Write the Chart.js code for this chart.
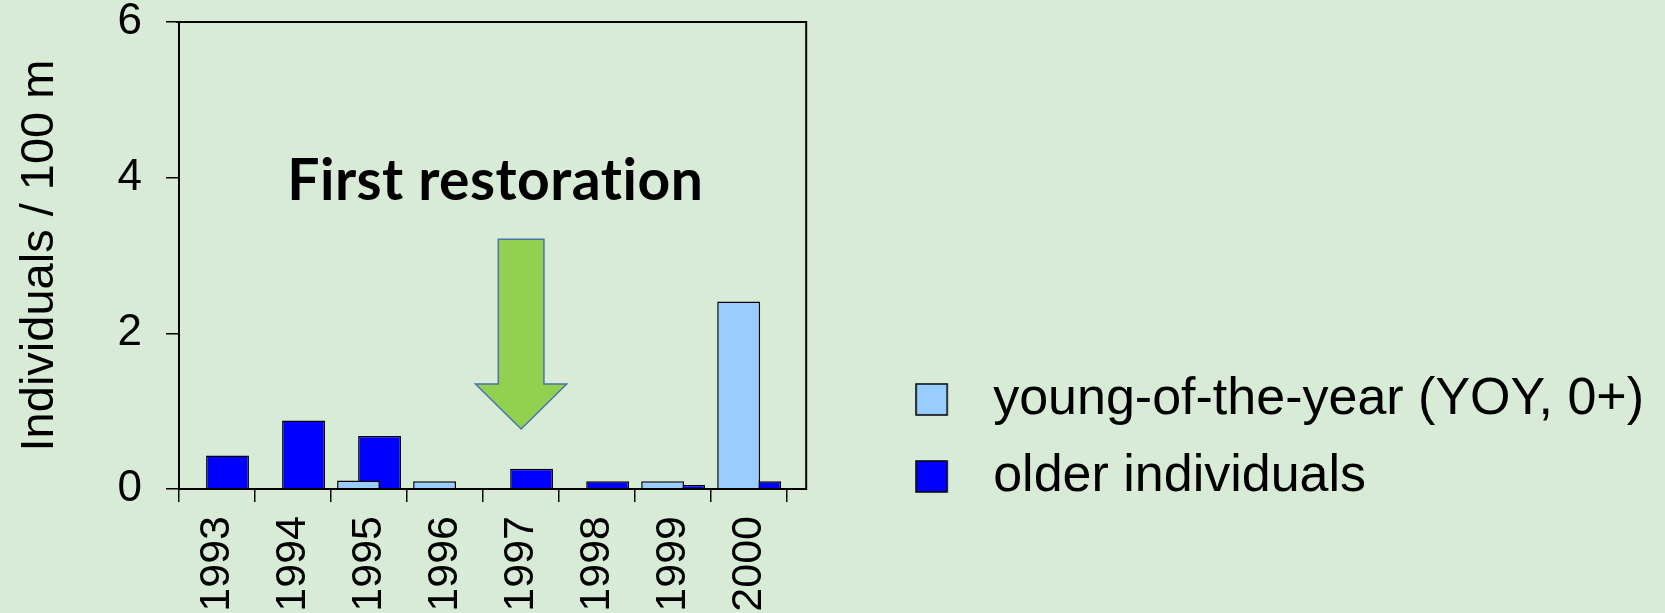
<!DOCTYPE html>
<html>
<head>
<meta charset="utf-8">
<script src="https://cdn.jsdelivr.net/npm/chart.js@4.4.1/dist/chart.umd.min.js"></script>
<style>
  html, body { margin: 0; padding: 0; background: #D7EBD6; }
  #wrap { width: 1665px; height: 613px; }
</style>
</head>
<body>
<div id="wrap"><canvas id="chart" width="1665" height="613"></canvas></div>
<script>
const years = ['1993', '1994', '1995', '1996', '1997', '1998', '1999', '2000'];
const yoy = [0, 0, 0.11, 0.1, 0, 0, 0.1, 2.41];
const older = [0.43, 0.88, 0.68, 0, 0.26, 0.1, 0.05, 0.1];
const yTicks = [0, 2, 4, 6];
const seriesNames = ['young-of-the-year (YOY, 0+)', 'older individuals'];
const axisTitle = 'Individuals / 100 m';

// restoration arrow (values in axis units) and its label
const arrowYear = '1997';
const arrowTop = 3.21;
const arrowHeadBase = 1.35;
const arrowTip = 0.77;
const noteText = 'First restoration';
const noteX = 3.66;
const noteY = 3.71;

Chart.defaults.font.family = '"Liberation Sans", Arial, sans-serif';
Chart.defaults.color = '#000';

// legend square, drawn at the left of a wider swatch so the text sits further away
function legendSwatch(fill) {
  const c = document.createElement('canvas');
  c.width = 54;
  c.height = 33;
  const g = c.getContext('2d');
  g.fillStyle = fill;
  g.fillRect(1, 1, 31, 31);
  g.strokeStyle = '#000';
  g.lineWidth = 1.5;
  g.strokeRect(1, 1, 31, 31);
  return c;
}

// box round the plot, a bit wider than the last category
const framePlugin = {
  id: 'frame',
  afterDatasetsDraw(chart) {
    const { ctx, chartArea: a, scales: { x } } = chart;
    const ext = (x.getPixelForValue(1) - x.getPixelForValue(0)) * 0.25;
    ctx.save();
    ctx.strokeStyle = '#000';
    ctx.lineWidth = 2;
    ctx.beginPath();
    ctx.moveTo(a.left - 3, a.top);
    ctx.lineTo(a.right + ext, a.top);
    ctx.lineTo(a.right + ext, a.bottom);
    ctx.lineTo(a.left, a.bottom);
    ctx.stroke();
    ctx.restore();
  }
};

const arrowPlugin = {
  id: 'arrow',
  afterDatasetsDraw(chart) {
    const { ctx, scales: { x, y } } = chart;
    const cx = x.getPixelForValue(years.indexOf(arrowYear));
    const cw = x.getPixelForValue(1) - x.getPixelForValue(0);
    const shaft = cw * 0.3;
    const head = cw * 0.6;
    const y0 = y.getPixelForValue(arrowTop);
    const y1 = y.getPixelForValue(arrowHeadBase);
    const y2 = y.getPixelForValue(arrowTip);
    ctx.save();
    ctx.beginPath();
    ctx.moveTo(cx - shaft, y0);
    ctx.lineTo(cx + shaft, y0);
    ctx.lineTo(cx + shaft, y1);
    ctx.lineTo(cx + head, y1);
    ctx.lineTo(cx, y2);
    ctx.lineTo(cx - head, y1);
    ctx.lineTo(cx - shaft, y1);
    ctx.closePath();
    ctx.fillStyle = '#92D050';
    ctx.fill();
    ctx.strokeStyle = '#4A76A8';
    ctx.lineWidth = 1.5;
    ctx.stroke();

    ctx.fillStyle = '#000';
    ctx.font = 'bold 57px Lato, "Open Sans", sans-serif';
    ctx.letterSpacing = '0.5px';
    ctx.textAlign = 'center';
    ctx.textBaseline = 'alphabetic';
    ctx.fillText(noteText, x.getPixelForValue(noteX), y.getPixelForValue(noteY));
    ctx.restore();
  }
};

new Chart(document.getElementById('chart'), {
  type: 'bar',
  data: {
    labels: years,
    datasets: [
      {
        label: seriesNames[0],
        data: yoy,
        backgroundColor: '#99CCFF',
        borderColor: '#000',
        borderWidth: 1.5,
        pointStyle: legendSwatch('#99CCFF')
      },
      {
        label: seriesNames[1],
        data: older,
        backgroundColor: '#0000FF',
        borderColor: '#000',
        borderWidth: 1.5,
        pointStyle: legendSwatch('#0000FF')
      }
    ]
  },
  options: {
    responsive: false,
    animation: false,
    datasets: {
      bar: { categoryPercentage: 0.553, barPercentage: 2.04 }
    },
    layout: { padding: { top: 0, right: 11, bottom: 0, left: 0 } },
    plugins: {
      tooltip: { enabled: false },
      legend: {
        position: 'right',
        align: 'start',
        maxWidth: 900,
        title: { display: true, text: '', padding: { top: 334, bottom: 0 } },
        labels: {
          usePointStyle: true,
          boxWidth: 50,
          boxHeight: 31,
          padding: 25,
          color: '#000',
          font: { size: 52 }
        }
      }
    },
    scales: {
      x: {
        grid: { offset: true, drawOnChartArea: false, tickLength: 13, color: '#000', lineWidth: 1.5 },
        border: { color: '#000', width: 2 },
        ticks: { minRotation: 90, maxRotation: 90, padding: 14, font: { size: 43 } },
        afterFit(s) { s.height = 124; }
      },
      y: {
        min: 0,
        max: 6,
        afterBuildTicks(s) { s.ticks = yTicks.map(v => ({ value: v })); },
        grid: { drawOnChartArea: false, tickLength: 13, color: '#000', lineWidth: 1.5 },
        border: { color: '#000', width: 2 },
        ticks: { padding: 24, font: { size: 44, lineHeight: 1 } },
        title: { display: true, text: axisTitle, font: { size: 47 }, padding: { top: 12, bottom: 0 } },
        afterFit(s) {
          s.width = 179;
          s.paddingTop = 22;
          s.paddingBottom = 0;
        }
      },
      spacer: {
        position: 'right',
        grid: { display: false },
        border: { display: false },
        ticks: { display: false },
        afterFit(s) { s.width = 105; }
      }
    }
  },
  plugins: [framePlugin, arrowPlugin]
});
</script>
</body>
</html>
